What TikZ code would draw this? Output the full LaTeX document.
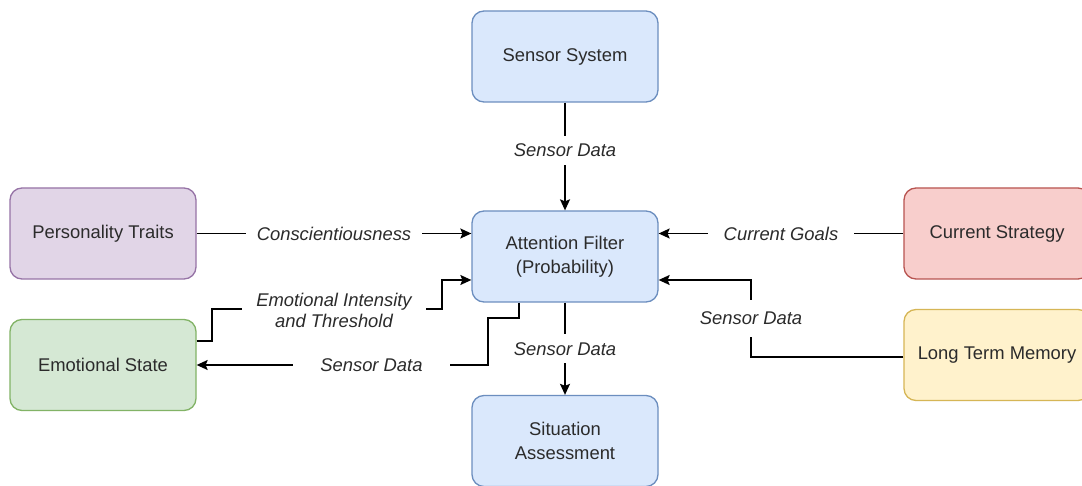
\documentclass[tikz,border=0pt]{standalone}
\usepackage{fontspec}
\setmainfont{Liberation Sans}
\usetikzlibrary{arrows.meta,calc}

\definecolor{blueFill}{HTML}{DAE8FC}\definecolor{blueLine}{HTML}{6C8EBF}
\definecolor{purpleFill}{HTML}{E1D5E7}\definecolor{purpleLine}{HTML}{9673A6}
\definecolor{redFill}{HTML}{F8CECC}\definecolor{redLine}{HTML}{B85450}
\definecolor{greenFill}{HTML}{D5E8D4}\definecolor{greenLine}{HTML}{82B366}
\definecolor{yellowFill}{HTML}{FFF2CC}\definecolor{yellowLine}{HTML}{D6B656}
\definecolor{ink}{HTML}{2B2B2B}

\tikzset{
  box/.style={draw, rounded corners=12pt, line width=1.3pt,
    minimum width=186pt, minimum height=91pt, align=center,
    text=ink, font=\fontsize{18.4}{23.5}\selectfont, inner sep=0pt},
  bluebox/.style={box, fill=blueFill, draw=blueLine},
  purplebox/.style={box, fill=purpleFill, draw=purpleLine},
  redbox/.style={box, fill=redFill, draw=redLine},
  greenbox/.style={box, fill=greenFill, draw=greenLine},
  yellowbox/.style={box, fill=yellowFill, draw=yellowLine},
  link/.style={draw=black, line width=1.4pt,
    -{Stealth[length=11pt,width=10pt,inset=2pt]}},
  lbl/.style={fill=white, text=ink, inner xsep=11pt, inner ysep=8pt, align=center,
    font=\fontsize{18.4}{21}\selectfont\itshape}
}

\begin{document}
\begin{tikzpicture}[x=1pt,y=-1pt]
\useasboundingbox (0,0) rectangle (1082,486);
\clip (0,0) rectangle (1082,486);
\fill[white] (0,0) rectangle (1082,486);

% blocks
\node[bluebox]   (sensor)  at (565,56.5)  {Sensor System};
\node[bluebox]   (filter)  at (565,256.5) {Attention Filter\\(Probability)};
\node[bluebox]   (assess)  at (565,441)   {Situation\\Assessment};
\node[purplebox] (persona) at (103,233.5) {Personality Traits};
\node[greenbox]  (emotion) at (103,365)   {Emotional State};
\node[redbox]    (strategy) at (997,233.5) {Current Strategy};
\node[yellowbox] (memory)  at (997,355)   {Long Term Memory};

% bend points
\coordinate (eA) at (212,341);
\coordinate (eB) at (212,309);
\coordinate (eC) at (442,309);
\coordinate (eD) at (442,280);
\coordinate (sA) at (519,318);
\coordinate (sB) at (488,318);
\coordinate (sC) at (488,365);
\coordinate (mA) at (751,357);
\coordinate (mB) at (751,280);

% straight links
\draw[link] (sensor.south) -- node[lbl, pos=0.44] {Sensor Data} (filter.north);
\draw[link] (filter.south) -- node[lbl, pos=0.5] {Sensor Data} (assess.north);
\draw[link] (persona.east |- 0,233.5) -- node[lbl, pos=0.5] {Conscientiousness} (filter.west |- 0,233.5);
\draw[link] (strategy.west |- 0,233.5) -- node[lbl, pos=0.5, inner xsep=16pt] {Current Goals} (filter.east |- 0,233.5);

% elbow links
\draw[link] (emotion.east |- eA) -- (eA) -- (eB) -- (eC) -- (eD) -- (filter.west |- eD);
\node[lbl, inner xsep=14pt] (intensity) at (334,310) {Emotional Intensity\\and Threshold};

\draw[link] (filter.south -| sA) -- (sA) -- (sB) -- (sC) -- node[lbl, pos=0.4, inner xsep=27pt] {Sensor Data} (emotion.east |- sC);

\draw[link] (memory.west |- mA) -- (mA) -- node[lbl, pos=0.5, inner ysep=12pt] {Sensor Data} (mB) -- (filter.east |- mB);
\end{tikzpicture}
\end{document}
